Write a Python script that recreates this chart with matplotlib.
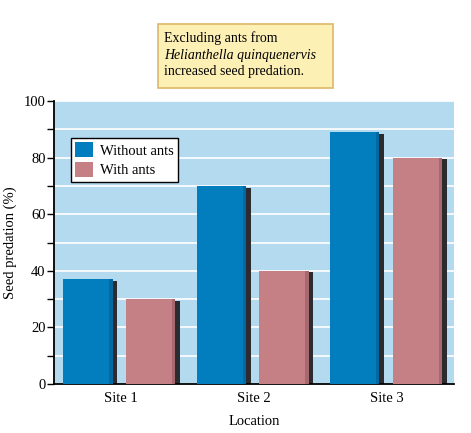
import matplotlib
matplotlib.use("Agg")
import matplotlib.pyplot as plt
import numpy as np
from matplotlib.patches import Rectangle, Patch

sites = ["Site 1", "Site 2", "Site 3"]
without_ants = [37, 70, 89]
with_ants = [30, 40, 80]
yticks = [0, 20, 40, 60, 80, 100]

plt.rcParams['font.family'] = ['Liberation Serif', 'DejaVu Serif']

BLUE = "#027DBE"
PINK = "#C48085"
BG = "#B4DAEF"
SHADOW = "#2B2B30"

fig = plt.figure(figsize=(4.71, 4.33), dpi=100)
ax = fig.add_axes([0.1146, 0.1132, 0.8493, 0.6535])
ax.set_facecolor(BG)

x = np.arange(len(sites))
w = 0.37
bo = -0.43 + w / 2
po = 0.04 + w / 2
sh = 0.035

# shadows
ax.bar(x + bo + sh, np.array(without_ants) - 0.6, w, color=SHADOW, zorder=2)
ax.bar(x + po + sh, np.array(with_ants) - 0.6, w, color=SHADOW, zorder=2)
# main bars
ax.bar(x + bo, without_ants, w, color=BLUE, zorder=3)
ax.bar(x + po, with_ants, w, color=PINK, zorder=3)
# darker right edge strip
ax.bar(x + bo + w / 2 - 0.012, without_ants, 0.024, color="#0568A0", zorder=3.5)
ax.bar(x + po + w / 2 - 0.012, with_ants, 0.024, color="#A86870", zorder=3.5)

ax.set_xlim(-0.5, 2.5)
ax.set_ylim(0, 100)
ax.set_yticks(yticks)
ax.set_yticks(np.arange(10, 100, 20), minor=True)
ax.yaxis.grid(True, which='both', color='white', linewidth=1.2, zorder=1)
ax.set_axisbelow(True)
ax.set_xticks(x)
ax.set_xticklabels(sites, fontsize=10.5)
ax.tick_params(axis='x', length=0, pad=6)
ax.tick_params(axis='y', which='both', direction='out', length=5, width=1, labelsize=10.5, pad=1)
for s in ['top', 'right']:
    ax.spines[s].set_visible(False)
ax.spines['left'].set_linewidth(1.3)
ax.spines['bottom'].set_linewidth(1.3)

ax.set_ylabel("Seed predation (%)", fontsize=10.5, labelpad=5)
ax.set_xlabel("Location", fontsize=10.5, labelpad=7)

handles = [Patch(facecolor=BLUE, label="Without ants"),
           Patch(facecolor=PINK, label="With ants")]
leg = ax.legend(handles=handles, loc='upper left', bbox_to_anchor=(0.042, 0.87),
                borderaxespad=0,
                fontsize=10.5, frameon=True, fancybox=False, edgecolor='black',
                framealpha=1, handlelength=1.2, handleheight=1.2,
                handletextpad=0.5, borderpad=0.3, labelspacing=0.3)
leg.get_frame().set_linewidth(1.0)

# annotation box
fig.patches.append(Rectangle((0.335, 0.797), 0.372, 0.148, transform=fig.transFigure,
                             facecolor="#FDF0B5", edgecolor="#DDB868", linewidth=1.2))
fig.text(0.348, 0.911, "Excluding ants from", fontsize=10, va='center')
fig.text(0.348, 0.872, "Helianthella quinquenervis", fontsize=10, va='center', style='italic')
fig.text(0.348, 0.834, "increased seed predation.", fontsize=10, va='center')

fig.savefig("out.png", dpi=100)
